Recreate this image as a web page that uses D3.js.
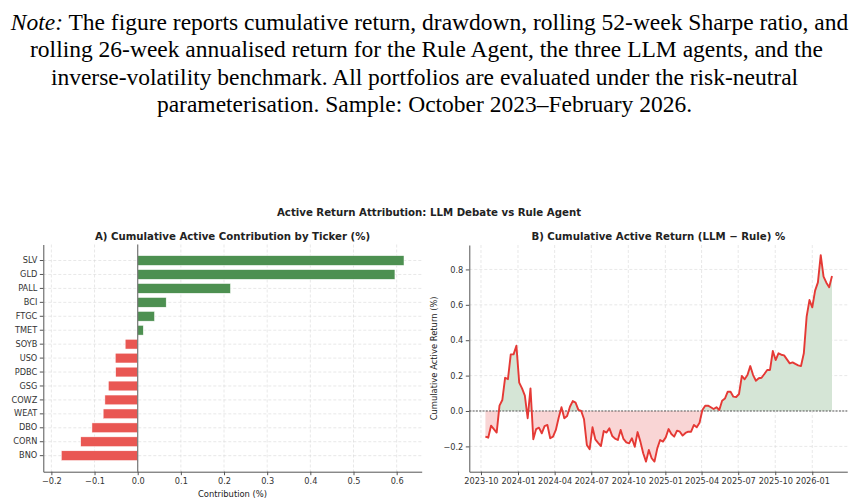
<!DOCTYPE html>
<html>
<head>
<meta charset="utf-8">
<script src="https://cdn.jsdelivr.net/npm/d3@7"></script>
<style>
  body { margin: 0; background: #fff; }
  svg { display: block; }
  text { font-family: "DejaVu Sans", sans-serif; fill: #222; }
  .note text { font-family: "Liberation Serif", serif; fill: #000; }
  .grid line { stroke: #d9d9d9; stroke-width: 0.6; stroke-dasharray: 3,2; }
  .axis path, .axis line { stroke: #555; }
  .axis text { font-size: 8.2px; fill: #333; }
</style>
</head>
<body>
<div id="fig"></div>
<script>
// panel A: cumulative active contribution per ticker (%)
const tickers = ["SLV", "GLD", "PALL", "BCI", "FTGC", "TMET", "SOYB", "USO", "PDBC", "GSG", "COWZ", "WEAT", "DBO", "CORN", "BNO"];
const contributions = [0.617, 0.596, 0.215, 0.066, 0.039, 0.013, -0.029, -0.052, -0.051, -0.068, -0.076, -0.080, -0.106, -0.132, -0.177];
const contribTicks = [-0.2, -0.1, 0.0, 0.1, 0.2, 0.3, 0.4, 0.5, 0.6];

// panel B: weekly cumulative active return, LLM minus Rule (%)
const firstWeek = "2023-10-12";
const activeReturn = [
  -0.145, -0.151, -0.083, -0.102, -0.122, 0.030, 0.062, 0.188, 0.180, 0.320,
  0.320, 0.369, 0.160, 0.128, 0.087, -0.041, 0.128, -0.160, -0.102, -0.094,
  -0.126, -0.085, -0.079, -0.154, -0.145, -0.107, -0.038, 0.021, -0.041, -0.028,
  0.024, 0.056, 0.047, 0.006, 0.000, -0.047, -0.192, -0.216, -0.092, -0.160,
  -0.180, -0.198, -0.113, -0.122, -0.098, -0.141, -0.156, -0.164, -0.107, -0.158,
  -0.177, -0.183, -0.154, -0.202, -0.119, -0.173, -0.239, -0.286, -0.220, -0.267,
  -0.286, -0.211, -0.164, -0.173, -0.149, -0.102, -0.130, -0.145, -0.111, -0.117,
  -0.139, -0.124, -0.117, -0.117, -0.079, -0.092, -0.066, 0.006, 0.030, 0.030,
  0.021, 0.011, 0.021, 0.006, 0.058, 0.070, 0.109, 0.109, 0.081, 0.079,
  0.096, 0.198, 0.179, 0.203, 0.254, 0.203, 0.171, 0.185, 0.188, 0.209,
  0.232, 0.232, 0.339, 0.288, 0.326, 0.318, 0.314, 0.292, 0.269, 0.275,
  0.266, 0.258, 0.254, 0.326, 0.533, 0.627, 0.586, 0.680, 0.727, 0.881,
  0.759, 0.725, 0.699, 0.763
];
const returnTicks = [-0.2, 0.0, 0.2, 0.4, 0.6, 0.8];

const noteLines = [
  "The figure reports cumulative return, drawdown, rolling 52-week Sharpe ratio, and",
  "rolling 26-week annualised return for the Rule Agent, the three LLM agents, and the",
  "inverse-volatility benchmark. All portfolios are evaluated under the risk-neutral",
  "parameterisation. Sample: October 2023\u2013February 2026."
];

const width = 858, height = 504;
const green = "#4d9051", red = "#e95753";

const svg = d3.select("#fig").append("svg")
  .attr("width", width)
  .attr("height", height);

// caption block, each line centred where the reference puts it
const note = svg.append("g").attr("class", "note");
const noteCentres = [429.5, 426.5, 424.5, 424.5];
noteLines.forEach((line, i) => {
  const t = note.append("text")
    .attr("x", noteCentres[i])
    .attr("y", 30 + i * 27.3)
    .attr("font-size", 23.5)
    .attr("text-anchor", "middle");
  if (i === 0) {
    t.append("tspan").attr("font-style", "italic").text("Note:");
    t.append("tspan").text(" " + line);
  } else {
    t.text(line);
  }
});

svg.append("text")
  .attr("x", 429)
  .attr("y", 215.5)
  .attr("text-anchor", "middle")
  .attr("font-size", 10.2)
  .attr("font-weight", "bold")
  .attr("fill", "#000")
  .text("Active Return Attribution: LLM Debate vs Rule Agent");

// ---------- panel A ----------
const a = { left: 43.3, right: 421.7, top: 244.5, bottom: 471.7 };

const xA = d3.scaleLinear().domain([-0.2187, 0.658]).range([a.left, a.right]);
const yA = d3.scaleBand().domain(tickers).range([a.top, a.bottom])
  .paddingInner(0.3).paddingOuter(0.8);

const gA = svg.append("g");

gA.append("g").attr("class", "grid")
  .selectAll("line.v").data(contribTicks).join("line")
  .attr("x1", d => xA(d)).attr("x2", d => xA(d))
  .attr("y1", a.top).attr("y2", a.bottom);
gA.append("g").attr("class", "grid")
  .selectAll("line.h").data(tickers).join("line")
  .attr("x1", a.left).attr("x2", a.right)
  .attr("y1", d => yA(d) + yA.bandwidth() / 2)
  .attr("y2", d => yA(d) + yA.bandwidth() / 2);

gA.selectAll("rect.bar")
  .data(tickers.map((t, i) => ({ t, v: contributions[i] })))
  .join("rect")
  .attr("class", "bar")
  .attr("x", d => xA(Math.min(0, d.v)))
  .attr("width", d => Math.abs(xA(d.v) - xA(0)))
  .attr("y", d => yA(d.t))
  .attr("height", yA.bandwidth())
  .attr("fill", d => d.v >= 0 ? green : red)
  .attr("stroke", "#fff")
  .attr("stroke-width", 0.5);

gA.append("line")
  .attr("x1", xA(0)).attr("x2", xA(0))
  .attr("y1", a.top).attr("y2", a.bottom)
  .attr("stroke", "#777")
  .attr("stroke-width", 1.2);

gA.append("g").attr("class", "axis")
  .attr("transform", `translate(0,${a.bottom})`)
  .call(d3.axisBottom(xA).tickValues(contribTicks).tickFormat(d3.format(".1f"))
    .tickSize(3.5).tickPadding(2.5).tickSizeOuter(0));
gA.append("g").attr("class", "axis")
  .attr("transform", `translate(${a.left},0)`)
  .call(d3.axisLeft(yA).tickSize(3.5).tickPadding(2.5).tickSizeOuter(0));

gA.append("text")
  .attr("x", (a.left + a.right) / 2)
  .attr("y", 496.5)
  .attr("text-anchor", "middle")
  .attr("font-size", 8.4)
  .text("Contribution (%)");

gA.append("text")
  .attr("x", (a.left + a.right) / 2)
  .attr("y", 240)
  .attr("text-anchor", "middle")
  .attr("font-size", 10.2)
  .attr("font-weight", "bold")
  .attr("fill", "#000")
  .text("A) Cumulative Active Contribution by Ticker (%)");

// ---------- panel B ----------
const b = { left: 469.3, right: 847.3, top: 245, bottom: 471.7 };
const start = d3.timeParse("%Y-%m-%d")(firstWeek);
const series = activeReturn.map((v, i) => ({ date: d3.timeWeek.offset(start, i), v }));

const xB = d3.scaleTime()
  .domain([new Date(2023, 8, 2), new Date(2026, 2, 29)])
  .range([b.left, b.right]);
const yB = d3.scaleLinear().domain([-0.343, 0.938]).range([b.bottom, b.top]);

const gB = svg.append("g");
const monthTicks = xB.ticks(d3.timeMonth.every(3));

gB.append("g").attr("class", "grid")
  .selectAll("line").data(monthTicks).join("line")
  .attr("x1", d => xB(d)).attr("x2", d => xB(d))
  .attr("y1", b.top).attr("y2", b.bottom);
gB.append("g").attr("class", "grid")
  .selectAll("line").data(returnTicks).join("line")
  .attr("x1", b.left).attr("x2", b.right)
  .attr("y1", d => yB(d)).attr("y2", d => yB(d));

const defs = svg.append("defs");
defs.append("clipPath").attr("id", "above")
  .append("rect")
  .attr("x", b.left).attr("y", b.top)
  .attr("width", b.right - b.left).attr("height", yB(0) - b.top);
defs.append("clipPath").attr("id", "below")
  .append("rect")
  .attr("x", b.left).attr("y", yB(0))
  .attr("width", b.right - b.left).attr("height", b.bottom - yB(0));

const area = d3.area()
  .x(d => xB(d.date))
  .y0(yB(0))
  .y1(d => yB(d.v));

gB.append("path").datum(series)
  .attr("d", area)
  .attr("fill", "#d5e5d6")
  .attr("clip-path", "url(#above)");
gB.append("path").datum(series)
  .attr("d", area)
  .attr("fill", "#f9d5d5")
  .attr("clip-path", "url(#below)");

gB.append("line")
  .attr("x1", b.left).attr("x2", b.right)
  .attr("y1", yB(0)).attr("y2", yB(0))
  .attr("stroke", "#555")
  .attr("stroke-width", 1)
  .attr("stroke-dasharray", "2,1.3");

gB.append("path").datum(series)
  .attr("d", d3.line().x(d => xB(d.date)).y(d => yB(d.v)))
  .attr("fill", "none")
  .attr("stroke", "#e53935")
  .attr("stroke-width", 1.9)
  .attr("stroke-linejoin", "round");

gB.append("g").attr("class", "axis")
  .attr("transform", `translate(0,${b.bottom})`)
  .call(d3.axisBottom(xB).tickValues(monthTicks).tickFormat(d3.timeFormat("%Y-%m"))
    .tickSize(3.5).tickPadding(2.5).tickSizeOuter(0));
gB.append("g").attr("class", "axis")
  .attr("transform", `translate(${b.left},0)`)
  .call(d3.axisLeft(yB).tickValues(returnTicks).tickFormat(d3.format(".1f"))
    .tickSize(3.5).tickPadding(2.5).tickSizeOuter(0));

gB.append("text")
  .attr("transform", `translate(437,${(b.top + b.bottom) / 2}) rotate(-90)`)
  .attr("text-anchor", "middle")
  .attr("font-size", 8.4)
  .text("Cumulative Active Return (%)");

gB.append("text")
  .attr("x", (b.left + b.right) / 2)
  .attr("y", 240)
  .attr("text-anchor", "middle")
  .attr("font-size", 10.2)
  .attr("font-weight", "bold")
  .attr("fill", "#000")
  .text("B) Cumulative Active Return (LLM \u2212 Rule) %");

// only left and bottom spines, like the reference
svg.selectAll(".axis .domain").attr("stroke", "#555").attr("stroke-width", 1);
</script>
</body>
</html>
